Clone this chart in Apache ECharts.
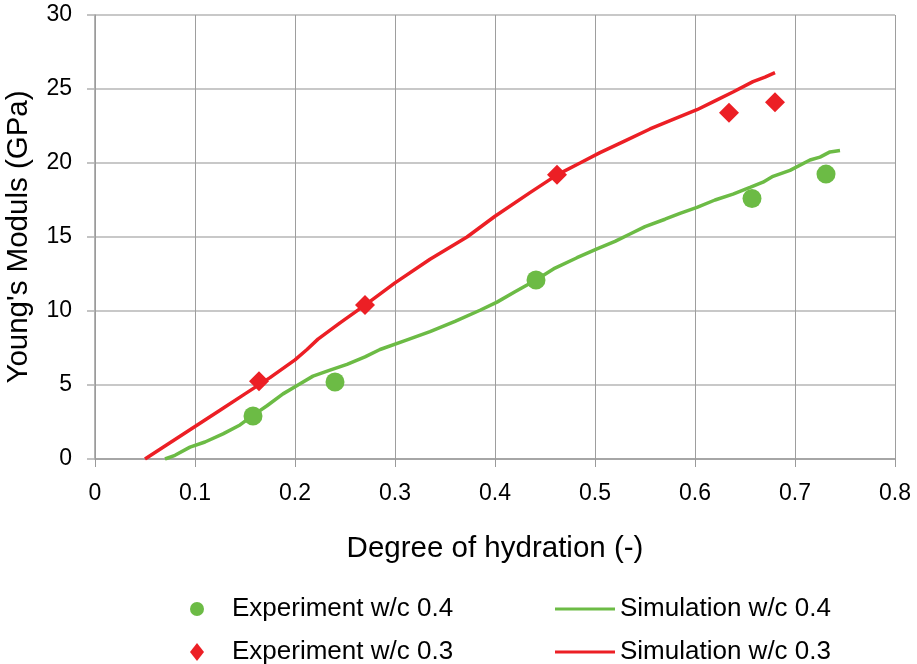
<!DOCTYPE html>
<html>
<head>
<meta charset="utf-8">
<script src="https://cdn.jsdelivr.net/npm/echarts@6/dist/echarts.min.js"></script>
<style>
  html, body { margin: 0; padding: 0; background: #fff; }
  #chart { width: 917px; height: 664px; }
</style>
</head>
<body>
<div id="chart"></div>
<script>
// Measured points: [degree of hydration, Young's modulus in GPa]
const expW04 = [[0.158, 2.9], [0.240, 5.2], [0.441, 12.1], [0.657, 17.6], [0.731, 19.25]];
const expW03 = [[0.164, 5.25], [0.270, 10.4], [0.462, 19.2], [0.634, 23.4], [0.680, 24.1]];

// Simulated curves
const simW04 = [
  [0.070, 0.0], [0.080, 0.25], [0.095, 0.8], [0.110, 1.15], [0.128, 1.7], [0.145, 2.3],
  [0.158, 2.95], [0.172, 3.6], [0.188, 4.4], [0.203, 5.0], [0.218, 5.6], [0.235, 6.0],
  [0.252, 6.4], [0.270, 6.9], [0.285, 7.4], [0.310, 8.0], [0.335, 8.6], [0.360, 9.3],
  [0.385, 10.05], [0.402, 10.6], [0.420, 11.3], [0.441, 12.1], [0.460, 12.9],
  [0.482, 13.6], [0.502, 14.2], [0.520, 14.7], [0.535, 15.2], [0.550, 15.7],
  [0.570, 16.2], [0.585, 16.6], [0.602, 17.0], [0.620, 17.5], [0.638, 17.9],
  [0.655, 18.35], [0.668, 18.7], [0.678, 19.1], [0.695, 19.5], [0.715, 20.2],
  [0.725, 20.4], [0.735, 20.75], [0.745, 20.85]
];
const simW03 = [
  [0.050, 0.0], [0.075, 1.1], [0.100, 2.2], [0.125, 3.3], [0.150, 4.4], [0.175, 5.5],
  [0.200, 6.7], [0.212, 7.4], [0.223, 8.1], [0.245, 9.2], [0.270, 10.4], [0.300, 11.9],
  [0.335, 13.5], [0.372, 15.0], [0.400, 16.4], [0.435, 18.0], [0.462, 19.2],
  [0.485, 20.0], [0.505, 20.7], [0.530, 21.5], [0.555, 22.3], [0.580, 23.0],
  [0.602, 23.6], [0.620, 24.2], [0.638, 24.8], [0.658, 25.5], [0.670, 25.8], [0.680, 26.1]
];

const xTicks = { min: 0, max: 0.8, step: 0.1 };
const yTicks = { min: 0, max: 30, step: 5 };

const names = {
  exp04: 'Experiment w/c 0.4',
  exp03: 'Experiment w/c 0.3',
  sim04: 'Simulation w/c 0.4',
  sim03: 'Simulation w/c 0.3'
};

const GREEN = '#6cbb45';
const RED = '#ec1f25';
const FONT = '"Liberation Sans", Arial, sans-serif';
const legendText = { fontSize: 26, color: '#000', fontFamily: FONT };

const chart = echarts.init(document.getElementById('chart'), null, { renderer: 'canvas' });

// one legend block per entry so the two columns sit exactly where wanted
function markerLegend(name, icon, top, w, h) {
  return {
    left: 190, top: top, padding: 0, itemWidth: w, itemHeight: h, itemGap: 0,
    textStyle: Object.assign({ padding: [0, 0, 0, 37 - w] }, legendText),
    data: [{ name: name, icon: icon }]
  };
}
function lineLegend(name, top) {
  return {
    left: 555, top: top, padding: 0, itemWidth: 60, itemHeight: 3, itemGap: 0,
    textStyle: Object.assign({}, legendText),
    data: [{ name: name, icon: 'rect' }]
  };
}

chart.setOption({
  animation: false,
  backgroundColor: '#ffffff',
  textStyle: { fontFamily: FONT, color: '#000' },
  grid: { left: 95, right: 22, top: 15, bottom: 205, containLabel: false, outerBoundsMode: 'none' },
  xAxis: {
    type: 'value',
    min: xTicks.min, max: xTicks.max, interval: xTicks.step,
    name: 'Degree of hydration (-)',
    nameLocation: 'middle',
    nameGap: 75,
    nameTextStyle: { fontSize: 29.5, color: '#000', fontFamily: FONT },
    axisLine: { show: true, lineStyle: { color: '#9a9a9a', width: 1.5 } },
    axisTick: { show: true, length: 8, lineStyle: { color: '#9a9a9a', width: 1 } },
    axisLabel: { fontSize: 23, color: '#000', margin: 23, fontFamily: FONT,
      formatter: v => (Math.round(v * 10) / 10).toString() },
    splitLine: { show: true, lineStyle: { color: '#9e9e9e', width: 1 } }
  },
  yAxis: {
    type: 'value',
    min: yTicks.min, max: yTicks.max, interval: yTicks.step,
    name: "Young's Moduls (GPa)",
    nameLocation: 'middle',
    nameGap: 61,
    nameTextStyle: { fontSize: 29.5, color: '#000', fontFamily: FONT },
    axisLine: { show: true, lineStyle: { color: '#9a9a9a', width: 1.5 } },
    axisTick: { show: true, length: 8, lineStyle: { color: '#b0b0b0', width: 1.5 } },
    axisLabel: { fontSize: 23, color: '#000', margin: 23, fontFamily: FONT },
    splitLine: { show: true, lineStyle: { color: '#b6b6b6', width: 1.5 } }
  },
  legend: [
    markerLegend(names.exp04, 'circle', 596, 14, 15),
    markerLegend(names.exp03, 'diamond', 639, 14, 18),
    lineLegend(names.sim04, 596),
    lineLegend(names.sim03, 639)
  ],
  series: [
    {
      name: names.sim04, type: 'line', data: simW04, symbol: 'none', smooth: false,
      color: GREEN, lineStyle: { color: GREEN, width: 3.5 }, z: 2
    },
    {
      name: names.sim03, type: 'line', data: simW03, symbol: 'none', smooth: false,
      color: RED, lineStyle: { color: RED, width: 3.5 }, z: 2
    },
    {
      name: names.exp04, type: 'scatter', data: expW04, symbol: 'circle', symbolSize: 19,
      color: GREEN, itemStyle: { color: GREEN, opacity: 1 }, z: 3
    },
    {
      name: names.exp03, type: 'scatter', data: expW03, symbol: 'diamond', symbolSize: 20,
      color: RED, itemStyle: { color: RED, opacity: 1 }, z: 3
    }
  ]
});
</script>
</body>
</html>
